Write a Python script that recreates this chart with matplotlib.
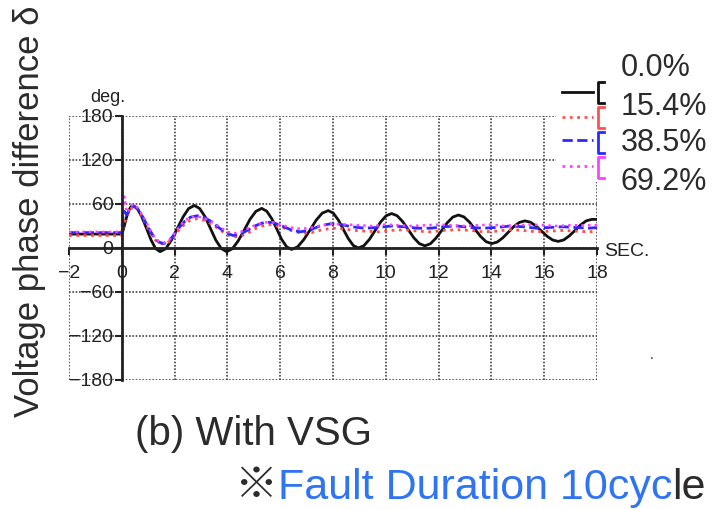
import matplotlib
matplotlib.use("Agg")
import matplotlib.pyplot as plt
from matplotlib import font_manager as fm
from matplotlib.lines import Line2D
from matplotlib.patches import Rectangle

# 0.0 % curve (black)
t_black = [-2, 0.0, 0.05, 0.1, 0.18, 0.26, 0.34, 0.42,
           0.59, 0.76, 0.94, 1.11, 1.28, 1.45,
           1.67, 1.88, 2.10, 2.32, 2.53, 2.75,
           2.95, 3.16, 3.36, 3.56, 3.77, 3.97,
           4.19, 4.41, 4.64, 4.86, 5.08, 5.30,
           5.49, 5.68, 5.87, 6.05, 6.24, 6.43,
           6.66, 6.89, 7.13, 7.36, 7.59, 7.82,
           8.01, 8.20, 8.39, 8.58, 8.77, 8.96,
           9.17, 9.38, 9.59, 9.80, 10.01, 10.22,
           10.43, 10.64, 10.85, 11.06, 11.27, 11.48,
           11.69, 11.90, 12.12, 12.33, 12.54, 12.75,
           12.96, 13.17, 13.38, 13.59, 13.80, 14.01,
           14.22, 14.43, 14.64, 14.85, 15.06, 15.27,
           15.48, 15.69, 15.90, 16.11, 16.32, 16.53,
           16.74, 16.95, 17.17, 17.38, 17.59, 17.8, 18.0]
v_black = [19, 19, 24, 31, 42, 51, 56, 58,
           53.8, 42.3, 26.5, 10.8, -0.8, -5,
           -0.8, 10.8, 26.5, 42.3, 53.8, 58,
           53.8, 42.3, 26.5, 10.8, -0.8, -5,
           -1.0, 9.8, 24.5, 39.3, 50.0, 54,
           50.2, 40.0, 26.0, 12.0, 1.8, -2,
           1.6, 11.3, 24.5, 37.8, 47.5, 51,
           47.6, 38.3, 25.5, 12.8, 3.4, 0,
           3.1, 11.8, 23.5, 35.3, 43.9, 47,
           44.0, 36.0, 25.0, 14.0, 6.0, 3,
           5.8, 13.5, 24.0, 34.5, 42.2, 45,
           42.4, 35.3, 25.5, 15.8, 8.6, 6,
           8.1, 13.8, 21.5, 29.3, 34.9, 37,
           35.1, 30.0, 23.0, 16.0, 10.9, 9,
           11.0, 16.5, 24.0, 31.5, 37.0, 39, 39]

# 15.4 % curve (red)
t_red = [-2, 0.0, 0.05, 0.15, 0.3, 0.45, 0.6, 0.8, 1.0, 1.2, 1.4, 1.6, 1.8, 2.0, 2.2, 2.4,
         2.6, 2.85, 3.1, 3.4, 3.7, 4.0, 4.25, 4.5, 4.8, 5.1, 5.4, 5.7, 6.0, 6.4, 6.8, 7.2,
         7.6, 8.0, 8.4, 8.8, 9.2, 9.7, 10.2, 10.7, 11.2, 11.7, 12.2, 12.7, 13.2, 13.7,
         14.2, 14.7, 15.2, 15.7, 16.2, 16.7, 17.2, 17.7, 18.0]
v_red = [17, 17, 28, 40, 52, 57, 53, 41, 26, 13, 7, 5, 9, 17, 26, 33,
         38, 40, 38, 33, 25, 18, 15, 16, 21, 27, 31, 32, 29, 24, 20, 21,
         25, 27, 26, 24, 23, 22, 24, 25, 23, 22, 24, 25, 24, 22,
         23, 25, 24, 22, 23, 24, 23, 22, 23]

# 38.5 % curve (blue)
t_blue = [-2, 0.0, 0.03, 0.1, 0.18, 0.3, 0.43, 0.6, 0.8, 1.0, 1.2, 1.4, 1.6, 1.8, 2.0,
          2.2, 2.4, 2.6, 2.85, 3.1, 3.4, 3.7, 4.0, 4.22, 4.5, 4.8, 5.1, 5.4, 5.7, 6.0,
          6.4, 6.75, 7.1, 7.5, 7.9, 8.3, 8.7, 9.2, 9.7, 10.2, 10.7, 11.2, 11.7, 12.2,
          12.7, 13.2, 13.7, 14.2, 14.7, 15.2, 15.7, 16.2, 16.7, 17.2, 17.7, 18.0]
v_blue = [21, 21, 40, 50, 45, 52, 58, 53, 42, 28, 16, 8, 6, 10, 19,
          29, 37, 42, 44, 42, 36, 27, 20, 17, 19, 25, 31, 35, 35, 31,
          25, 22, 24, 30, 33, 32, 29, 27, 28, 30, 29, 27, 27, 29,
          30, 28, 27, 28, 30, 29, 27, 28, 29, 28, 27, 28]

# 69.2 % curve (magenta)
t_mag = [-2, 0.0, 0.05, 0.1, 0.15, 0.22, 0.3, 0.43, 0.6, 0.8, 1.0, 1.2, 1.4, 1.6, 1.8,
         2.0, 2.2, 2.4, 2.6, 2.85, 3.1, 3.4, 3.7, 4.0, 4.25, 4.5, 4.8, 5.1, 5.4, 5.7,
         6.0, 6.4, 6.8, 7.2, 7.6, 8.0, 8.5, 9.0, 9.5, 10.0, 10.5, 11.0, 11.5, 12.0,
         12.5, 13.0, 13.5, 14.0, 14.5, 15.0, 15.5, 16.0, 16.5, 17.0, 17.5, 18.0]
v_mag = [22, 22, 55, 70, 55, 48, 55, 60, 55, 44, 30, 17, 9, 7, 11,
         20, 30, 38, 42, 43, 41, 36, 29, 22, 20, 22, 27, 32, 35, 35,
         32, 28, 26, 28, 31, 33, 32, 31, 30, 32, 31, 30, 31, 32,
         31, 30, 31, 32, 30, 31, 32, 31, 30, 31, 31, 31]

labels = ["0.0%", "15.4%", "38.5%", "69.2%"]
colors = ["#111111", "#ff5050", "#2a2aff", "#ff40ff"]
styles = ["-", ":", "--", ":"]

x_ticks = list(range(-2, 19, 2))
y_ticks = list(range(-180, 181, 60))

names = {f.name for f in fm.fontManager.ttflist}
narrow = next((n for n in ["Liberation Sans Narrow", "DejaVu Sans Condensed", "Liberation Sans"] if n in names), "DejaVu Sans")
main = ["Liberation Sans", "Noto Sans CJK JP", "DejaVu Sans"]
plt.rcParams["font.family"] = main

W, H = 717, 509
fig = plt.figure(figsize=(W / 100, H / 100), dpi=100)


def fx(x):
    return x / W


def fy(y):
    return 1 - y / H


ax = fig.add_axes([fx(69), fy(380), (597 - 69) / W, (380 - 116) / H])
ax.set_xlim(-2, 18)
ax.set_ylim(-180, 180)
ax.set_xticks(x_ticks)
ax.set_yticks(y_ticks)
ax.grid(True, linestyle=(0, (1, 1)), color="#444444", linewidth=1.2)
for side in ["top", "right"]:
    ax.spines[side].set_visible(False)
ax.spines["left"].set_position(("data", 0))
ax.spines["bottom"].set_position(("data", 0))
for side in ["left", "bottom"]:
    ax.spines[side].set_linewidth(2)
    ax.spines[side].set_color("#222222")
ax.tick_params(direction="out", length=5, width=1.5, color="#222222",
               labelsize=14, labelcolor="#222222")
ax.tick_params(axis="x", pad=7)
ax.tick_params(axis="y", pad=1)
for lab in ax.get_xticklabels() + ax.get_yticklabels():
    lab.set_fontfamily(narrow)

series = [(t_black, v_black), (t_red, v_red), (t_blue, v_blue), (t_mag, v_mag)]
widths = [2.0, 2.0, 2.0, 1.8]
for (t, v), c, ls, lw in zip(series, colors, styles, widths):
    ax.plot(t, v, color=c, linestyle=ls, linewidth=lw)

fig.text(fx(108), fy(98), "deg.", fontsize=13, family=narrow, color="#222222",
         ha="center", va="center")
fig.text(fx(604), fy(251), "SEC.", fontsize=14, family=narrow, color="#222222",
         ha="left", va="center")

# legend block: white patch over the top-right of the grid
fig.add_artist(Rectangle((fx(556), fy(182)), (606 - 556) / W, (182 - 78) / H,
                         transform=fig.transFigure, facecolor="white", edgecolor="none", zorder=1))
line_y = [92, 117, 140, 166]
box_y = [(82, 103), (107, 128), (132, 153), (157, 178)]
for c, ls, ly, (b0, b1) in zip(colors, styles, line_y, box_y):
    fig.add_artist(Line2D([fx(562), fx(593)], [fy(ly), fy(ly)], color=c, linestyle=ls,
                          linewidth=2, transform=fig.transFigure, zorder=3))
    fig.add_artist(Line2D([fx(604), fx(598), fx(598), fx(604)], [fy(b0), fy(b0), fy(b1), fy(b1)],
                          color=c, linewidth=2, transform=fig.transFigure, zorder=3))

label_y = [68, 107, 143, 182]
for lab, ly in zip(labels, label_y):
    fig.text(fx(621), fy(ly), lab, fontsize=22, color="#2b2b2b", ha="left", va="center")

fig.text(fx(30), fy(211), "Voltage phase difference δ", fontsize=25, rotation=90,
         color="#2b2b2b", ha="center", va="center")
fig.text(fx(135), fy(445), "(b) With VSG", fontsize=29, color="#2b2b2b",
         ha="left", va="baseline")

fig.text(fx(652), fy(355), ".", fontsize=10, color="#333333", ha="center", va="center")

# note line: mark, blue part, dark tail
fig.canvas.draw()
r = fig.canvas.get_renderer()
x0 = fx(235)
parts = [("※", "#2b2b2b"), ("Fault Duration 10cyc", "#2f74f2"), ("le", "#2b2b2b")]
for s, c in parts:
    t = fig.text(x0, fy(499), s, fontsize=31, color=c, ha="left", va="baseline")
    bb = t.get_window_extent(renderer=r)
    x0 = x0 + bb.width / W

fig.savefig("out.png", dpi=100)
